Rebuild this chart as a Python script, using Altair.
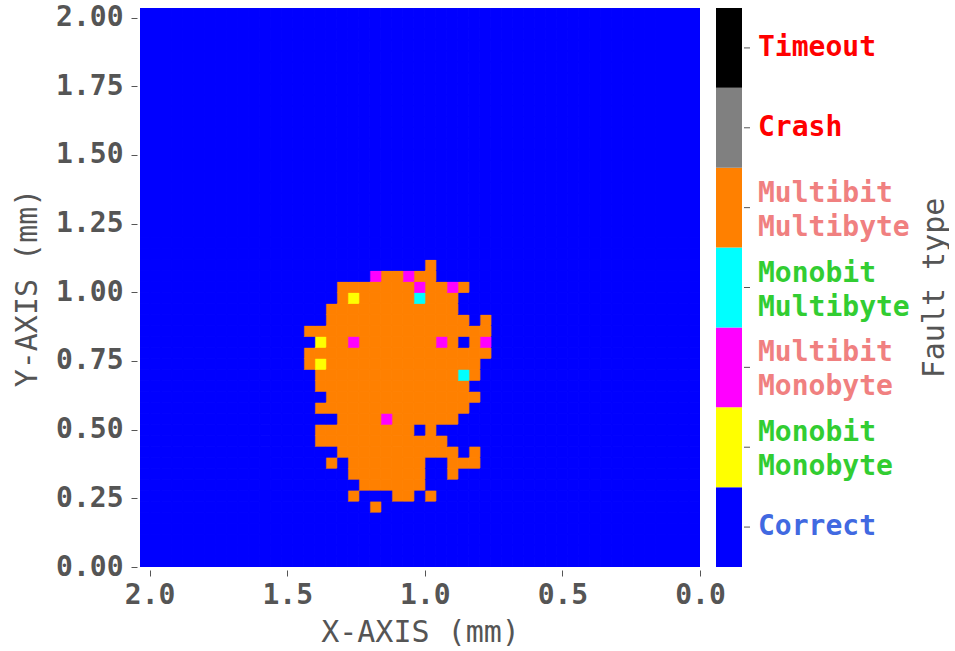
import altair as alt
import pandas as pd

# ---------------- data ----------------
GRID_STEP = 0.04          # scan step (mm)
N_CELLS = 51              # cells per axis
AXIS_MAX = 2.035

x_ticks = [0.0, 0.5, 1.0, 1.5, 2.0]
y_ticks = [0.0, 0.25, 0.5, 0.75, 1.0, 1.25, 1.5, 1.75, 2.0]

fault_types = ["Correct", "Monobit\nMonobyte", "Multibit\nMonobyte", "Monobit\nMultibyte",
               "Multibit\nMultibyte", "Crash", "Timeout"]
fault_colors = ["#0000FF", "#FFFF00", "#FF00FF", "#00FFFF", "#FF8000", "#808080", "#000000"]
label_colors = ["#4169E1", "#32CD32", "#F08080", "#32CD32", "#F08080", "#FF0000", "#FF0000"]
label_lines = [1, 2, 2, 2, 2, 1, 1]
legend_order = list(reversed(fault_types))

codes = {".": "Correct", "Y": "Monobit\nMonobyte", "M": "Multibit\nMonobyte",
         "B": "Monobit\nMultibyte", "O": "Multibit\nMultibyte"}

# fault map: first row = cell row 27 (going down), first column = cell column 36 (x decreasing)
map_row_top = 27
map_col_left = 36
fault_map = [
    "............O......",
    ".......MOOMOO......",
    "....OOOOOOOMOOMO...",
    "....OYOOOOOBOOO....",
    "...OOOOOOOOOOOO....",
    "...OOOOOOOOOOOOO.O.",
    ".OOOOOOOOOOOOOOOOO.",
    "..YOOMOOOOOOOMO.OM.",
    ".OOOOOOOOOOOOOOOOO.",
    ".OYOOOOOOOOOOOOOO..",
    "..OOOOOOOOOOOOOBO..",
    "..OOOOOOOOOOOOOO...",
    "...OOOOOOOOOOOOOO..",
    "..OOOOOOOOOOOOOO...",
    "....OOOOMOOOOOO....",
    "..OOOOOOOOO.O......",
    "..OOOOOOOOOOOO.....",
    "....OOOOOOOOOOO.O..",
    "...O.OOOOOOO..OOO..",
    ".....OOOOOOO..O....",
    "......OOOOOO.......",
    ".....O...OO.O......",
    ".......O...........",
]

rows = []
for j in range(N_CELLS):
    for k in range(N_CELLS):
        t = "Correct"
        r = map_row_top - j
        c = map_col_left - k
        if 0 <= r < len(fault_map) and 0 <= c < len(fault_map[r]):
            t = codes[fault_map[r][c]]
        rows.append({"x0": round(k * GRID_STEP, 3), "x1": round((k + 1) * GRID_STEP, 3),
                     "y0": round(j * GRID_STEP, 3), "y1": round((j + 1) * GRID_STEP, 3),
                     "fault": t})
df = pd.DataFrame(rows)

leg_df = pd.DataFrame({"fault": fault_types, "lcolor": label_colors, "nlines": label_lines})

# ---------------- styles ----------------
GRAY = "#555555"
MONO = "DejaVu Sans Mono"
axis_common = dict(domain=False, grid=False, ticks=True, tickSize=6, tickColor=GRAY, tickWidth=1,
                   offset=3, labelFont=MONO, labelFontWeight="bold", labelFontSize=28,
                   labelColor=GRAY, labelFlush=False, labelOverlap=False,
                   titleFont=MONO, titleFontWeight="normal", titleFontSize=30, titleColor=GRAY)

cscale = alt.Scale(domain=fault_types, range=fault_colors)

main = alt.Chart(df).mark_rect(clip=True, strokeWidth=1).encode(
    x=alt.X("x0:Q", scale=alt.Scale(domain=[0, AXIS_MAX], reverse=True, nice=False, zero=False),
            axis=alt.Axis(values=x_ticks, format=".1f", title="X-AXIS (mm)",
                          labelPadding=5, titlePadding=8, **axis_common)),
    x2="x1:Q",
    y=alt.Y("y0:Q", scale=alt.Scale(domain=[0, AXIS_MAX], nice=False, zero=False),
            axis=alt.Axis(values=y_ticks, format=".2f", title="Y-AXIS (mm)",
                          labelPadding=8, titlePadding=13, **axis_common)),
    y2="y1:Q",
    color=alt.Color("fault:N", scale=cscale, legend=None),
    stroke=alt.Stroke("fault:N", scale=cscale, legend=None),
).properties(width=560, height=559)

ybase = alt.Y("fault:N", sort=legend_order,
              scale=alt.Scale(domain=legend_order, paddingInner=0, paddingOuter=0),
              axis=alt.Axis(orient="right", title="Fault type", labels=False, ticks=False,
                            domain=False, grid=False, titleAngle=270, titleBaseline="top",
                            titlePadding=8, titleFont=MONO, titleFontWeight="normal",
                            titleFontSize=30, titleColor=GRAY))

bars = alt.Chart(leg_df).mark_rect().encode(
    y=ybase, x=alt.value(0), x2=alt.value(26),
    color=alt.Color("fault:N", scale=cscale, legend=None))
ticks = alt.Chart(leg_df).mark_rule(color=GRAY, strokeWidth=1).encode(
    y=ybase, x=alt.value(28), x2=alt.value(34))

text_style = dict(align="left", baseline="middle", font=MONO, fontWeight="bold",
                  fontSize=28, lineBreak="\n", lineHeight=34)
text_enc = dict(y=ybase, x=alt.value(42), text="fault:N",
                color=alt.Color("lcolor:N", scale=None, legend=None))
texts1 = alt.Chart(leg_df).transform_filter("datum.nlines == 1").mark_text(
    **text_style).encode(**text_enc)
texts2 = alt.Chart(leg_df).transform_filter("datum.nlines == 2").mark_text(
    dy=-14, **text_style).encode(**text_enc)

legend = alt.layer(bars, ticks, texts1, texts2).resolve_scale(color="independent").properties(
    width=195, height=559)

chart = alt.hconcat(main, legend, spacing=16, bounds="flush").properties(
    padding={"left": 12, "top": 3, "right": 0, "bottom": 0}
).configure_view(stroke=None)

chart.save("out.html", embed_options={"renderer": "svg", "actions": False})
